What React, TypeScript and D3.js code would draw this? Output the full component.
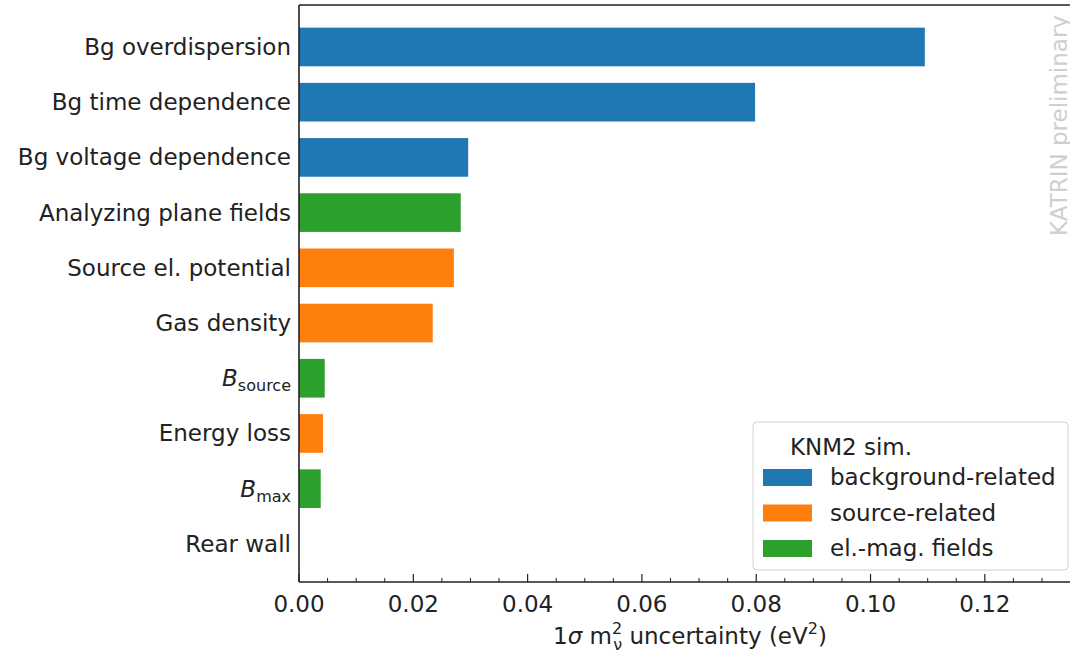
import * as d3 from "d3";

// categories top to bottom
const labels = [
  "Bg overdispersion",
  "Bg time dependence",
  "Bg voltage dependence",
  "Analyzing plane fields",
  "Source el. potential",
  "Gas density",
  "B_source",
  "Energy loss",
  "B_max",
  "Rear wall",
];
const values = [0.1095, 0.0798, 0.0296, 0.0283, 0.0271, 0.0234, 0.0045, 0.0042, 0.0038, 0.0];
const groups = ["bg", "bg", "bg", "em", "src", "src", "em", "src", "em", "src"];

const groupKeys = ["bg", "src", "em"];
const groupNames = ["background-related", "source-related", "el.-mag. fields"];
const groupColors = ["#1f77b4", "#ff7f0e", "#2ca02c"];

const majorTicks = [0, 0.02, 0.04, 0.06, 0.08, 0.1, 0.12];

const W = 1070;
const H = 654;
const FONT = "DejaVu Sans, sans-serif";
const FS = 23;

export default function App() {
  const x = d3.scaleLinear().domain([0, 0.1349]).range([299, 1070]);
  const y = d3.scaleLinear().domain([-0.76, 9.69]).range([5, 582]);
  const color = d3.scaleOrdinal<string, string>().domain(groupKeys).range(groupColors);
  const barH = y(0.7) - y(0);
  const minor = d3.range(0, 0.1349, 0.005).filter((v) => !majorTicks.some((m) => Math.abs(m - v) < 1e-9));

  const label = (s: string) => {
    if (s.startsWith("B_")) {
      return (
        <>
          <tspan fontStyle="italic">B</tspan>
          <tspan fontSize={16} dy={5}>{s.slice(2)}</tspan>
        </>
      );
    }
    return s;
  };

  return (
    <svg width={W} height={H} style={{ position: "absolute", left: 0, top: 0, background: "#fff" }} fontFamily={FONT}>
      {/* bars */}
      {values.map((v, i) => (
        <rect key={i} x={x(0)} y={y(i) - barH / 2} width={x(v) - x(0)} height={barH} fill={color(groups[i])} />
      ))}
      {/* y labels */}
      {labels.map((s, i) => (
        <text key={s} x={291} y={y(i) + 8} textAnchor="end" fontSize={FS} fill="#222">
          {label(s)}
        </text>
      ))}
      {/* spines */}
      <line x1={299} x2={299} y1={5} y2={582} stroke="#222" strokeWidth={1.6} />
      <line x1={299} x2={W} y1={582} y2={582} stroke="#222" strokeWidth={1.6} />
      <line x1={299} x2={W} y1={5} y2={5} stroke="#222" strokeWidth={1.6} />
      {/* x ticks */}
      {majorTicks.map((t) => (
        <g key={t}>
          <line x1={x(t)} x2={x(t)} y1={582} y2={574} stroke="#222" strokeWidth={1.2} />
          <text x={x(t)} y={612} textAnchor="middle" fontSize={FS} fill="#222">
            {d3.format(".2f")(t)}
          </text>
        </g>
      ))}
      {minor.map((t) => (
        <line key={t} x1={x(t)} x2={x(t)} y1={582} y2={578} stroke="#222" strokeWidth={1} />
      ))}
      {/* x label */}
      <text x={690} y={644} textAnchor="middle" fontSize={FS} fill="#222">
        1<tspan fontStyle="italic">σ</tspan> m
        <tspan fontSize={16} dy={-10}>2</tspan>
        <tspan fontSize={16} dx={-9} dy={16}>ν</tspan>
        <tspan dy={-6}> uncertainty (eV</tspan>
        <tspan fontSize={16} dy={-10}>2</tspan>
        <tspan dy={10}>)</tspan>
      </text>
      {/* legend */}
      <rect x={753} y={422} width={315} height={148} rx={4} fill="#fff" fillOpacity={0.85} stroke="#d0d0d0" strokeWidth={1} />
      <text x={851} y={455} textAnchor="middle" fontSize={FS} fill="#222">KNM2 sim.</text>
      {groupNames.map((n, i) => (
        <g key={n}>
          <rect x={763} y={469 + i * 35.5} width={49} height={17} fill={groupColors[i]} />
          <text x={830} y={485 + i * 35.5} fontSize={FS} fill="#222">{n}</text>
        </g>
      ))}
      {/* watermark */}
      <text transform="translate(1067,236) rotate(-90)" fontSize={FS} fill="#cfcfcf">KATRIN preliminary</text>
    </svg>
  );
}
